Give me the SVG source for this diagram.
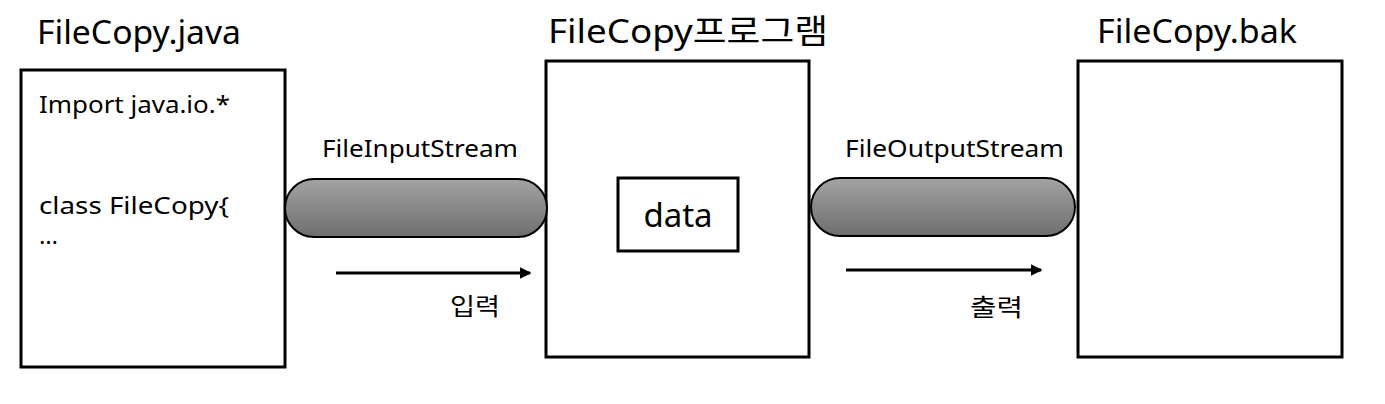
<svg xmlns="http://www.w3.org/2000/svg" width="1385" height="404" viewBox="0 0 1385 404">
<style>
text{font-family:"Noto Sans","Noto Sans CJK KR",sans-serif;fill:#000}
.title{font-size:33px}
.code{font-size:24px}
.lbl{font-size:24px}
.box{fill:#fff;stroke:#000;stroke-width:3}
.pill{fill:url(#g);stroke:#000;stroke-width:2}
.arr{stroke:#000;stroke-width:3;fill:none;marker-end:url(#ah)}
</style>
<defs>
<linearGradient id="g" x1="0" y1="0" x2="0" y2="1">
<stop offset="0" stop-color="#a3a3a3"/>
<stop offset="1" stop-color="#6e6e6e"/>
</linearGradient>
<marker id="ah" markerWidth="4" markerHeight="4" refX="3.5" refY="2" orient="auto" markerUnits="strokeWidth">
<path d="M0,0 L4,2 L0,4 Z" fill="#000"/>
</marker>
</defs>
<g id="java">
<text class="title" x="37" y="44" textLength="204" lengthAdjust="spacingAndGlyphs">FileCopy.java</text>
<rect class="box" x="21" y="70" width="264" height="297"/>
<text class="code" x="39" y="113" textLength="191" lengthAdjust="spacingAndGlyphs">Import java.io.*</text>
<text class="code" x="39" y="214" textLength="190" lengthAdjust="spacingAndGlyphs">class FileCopy{</text>
<text class="code" x="39" y="244">…</text>
</g>
<g id="program">
<text class="title" x="548" y="43" textLength="280" lengthAdjust="spacingAndGlyphs">FileCopy프로그램</text>
<rect class="box" x="546" y="61" width="263" height="296"/>
</g>
<g id="data">
<rect class="box" x="618" y="178" width="120" height="73"/>
<text class="title" x="678" y="227" text-anchor="middle">data</text>
</g>
<g id="bak">
<text class="title" x="1097" y="43" textLength="200" lengthAdjust="spacingAndGlyphs">FileCopy.bak</text>
<rect class="box" x="1078" y="61" width="264" height="296"/>
</g>
<g id="connectors">
<rect class="pill" x="285" y="179" width="262" height="58" rx="29" ry="29"/>
<text class="lbl" x="322" y="157" textLength="196" lengthAdjust="spacingAndGlyphs">FileInputStream</text>
<line class="arr" x1="336" y1="273" x2="530" y2="273"/>
<text class="lbl" x="450" y="315" textLength="50" lengthAdjust="spacingAndGlyphs">입력</text>
<rect class="pill" x="811" y="178" width="264" height="58" rx="29" ry="29"/>
<text class="lbl" x="845" y="157" textLength="219" lengthAdjust="spacingAndGlyphs">FileOutputStream</text>
<line class="arr" x1="846" y1="270" x2="1041" y2="270"/>
<text class="lbl" x="970" y="316" textLength="53" lengthAdjust="spacingAndGlyphs">출력</text>
</g>
</svg>
